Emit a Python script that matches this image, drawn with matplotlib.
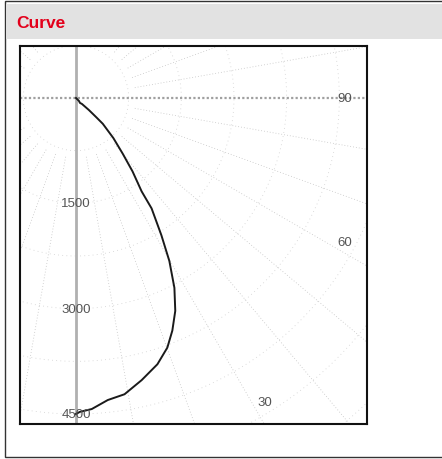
import numpy as np
import matplotlib
matplotlib.use("Agg")
import matplotlib.pyplot as plt
from matplotlib.patches import Rectangle

# curve, polar: radius and angle in degrees (0 = down, 90 = right)
curve_r = [0, 60, 90, 120, 250, 400, 530, 780, 1035, 1320, 1625, 1905, 2300,
           2675, 3045, 3345, 3585, 3785, 3965, 4125, 4275, 4325, 4435, 4470, 4500]
curve_theta = [0, 45, 39, 45, 47, 46.5, 46.1, 43.0, 40.0, 37.6, 35.1, 34.4, 31.9,
               29.8, 27.4, 25.0, 22.5, 20.1, 17.0, 13.1, 9.3, 6.0, 2.9, 0.7, 0.0]

r_ticks = [1500, 3000, 4500]
r_rings = [750, 1500, 2250, 3000, 3750, 4500, 5250, 6000]
theta_spokes = list(range(0, 360, 10))
theta_labels = [90, 60, 30]

plt.rcParams["font.family"] = ["Liberation Sans", "DejaVu Sans"]

W, H = 442, 460
fig = plt.figure(figsize=(W / 100, H / 100), dpi=100)

# panel frame + header band
fig.patches.append(Rectangle((5 / W, 2 / H), 1.0, 456 / H, transform=fig.transFigure,
                             facecolor="white", edgecolor="#333333", lw=1.0, zorder=-2))
fig.patches.append(Rectangle((5.5 / W, (H - 40) / H), 1.0, 35 / H, transform=fig.transFigure,
                             facecolor="#e2e2e2", edgecolor="none", zorder=-1))
fig.text(16 / W, (H - 23) / H, "Curve", color="#e3001b", fontsize=12.5,
         fontweight="bold", va="center", ha="left")

# plot box in pixels and polar origin
x0, y0, x1, y1 = 20, 47, 367, 425
ox, oy = 76, 99
k = 4500 / 316  # data units per pixel

ax = fig.add_axes([x0 / W, (H - y1) / H, (x1 - x0) / W, (y1 - y0) / H])
ax.set_xlim((x0 - ox) * k, (x1 - ox) * k)
ax.set_ylim(-(y1 - oy) * k, (oy - y0) * k)
ax.set_xticks([])
ax.set_yticks([])
for s in ax.spines.values():
    s.set_linewidth(1.5)
    s.set_color("#111111")


def to_xy(r, th):
    t = np.radians(np.asarray(th, dtype=float))
    r = np.asarray(r, dtype=float)
    return r * np.sin(t), -r * np.cos(t)


# faint, sparse grid
phi = np.linspace(0, 360, 721)
for rr in r_rings:
    gx, gy = to_xy(np.full_like(phi, rr), phi)
    ax.plot(gx, gy, color="#d0d0d0", lw=0.6, linestyle=(0, (1, 4)), zorder=1)
for th in theta_spokes:
    if th in (0, 90, 180, 270):
        continue
    gx, gy = to_xy([850, 9000], [th, th])
    ax.plot(gx, gy, color="#c4c4c4", lw=0.6, linestyle=(0, (1, 2.5)), zorder=1)

# main axes lines
ax.axvline(0, color="#b0b0b0", lw=2, zorder=2)
ax.axhline(0, color="#a0a0a0", lw=1.6, linestyle=(0, (1, 1)), zorder=2)

# radial labels
for rr in r_ticks:
    lx, ly = to_xy(rr, 0)
    ax.text(lx, ly, str(rr), ha="center", va="center", fontsize=9.5,
            color="#555555", zorder=4)

# angle labels near the box edge
inset = 22 * k
xmax = (x1 - ox) * k - inset
ymin = -(y1 - oy) * k + inset
for th in theta_labels:
    t = np.radians(th)
    r_side = xmax / np.sin(t) if np.sin(t) > 1e-9 else np.inf
    r_bot = -ymin / np.cos(t) if np.cos(t) > 1e-9 else np.inf
    lx, ly = to_xy(min(r_side, r_bot), th)
    if r_bot < r_side:
        lx += 13 * k
    elif np.cos(t) > 1e-9:
        ly += 11 * k
    ax.text(lx, ly, str(th), ha="center", va="center",
            fontsize=9.5, color="#555555", zorder=4)

cx, cy = to_xy(curve_r, curve_theta)
ax.plot(cx, cy, color="#1a1a1a", lw=1.4, zorder=3)

fig.savefig("out.png", dpi=100)
